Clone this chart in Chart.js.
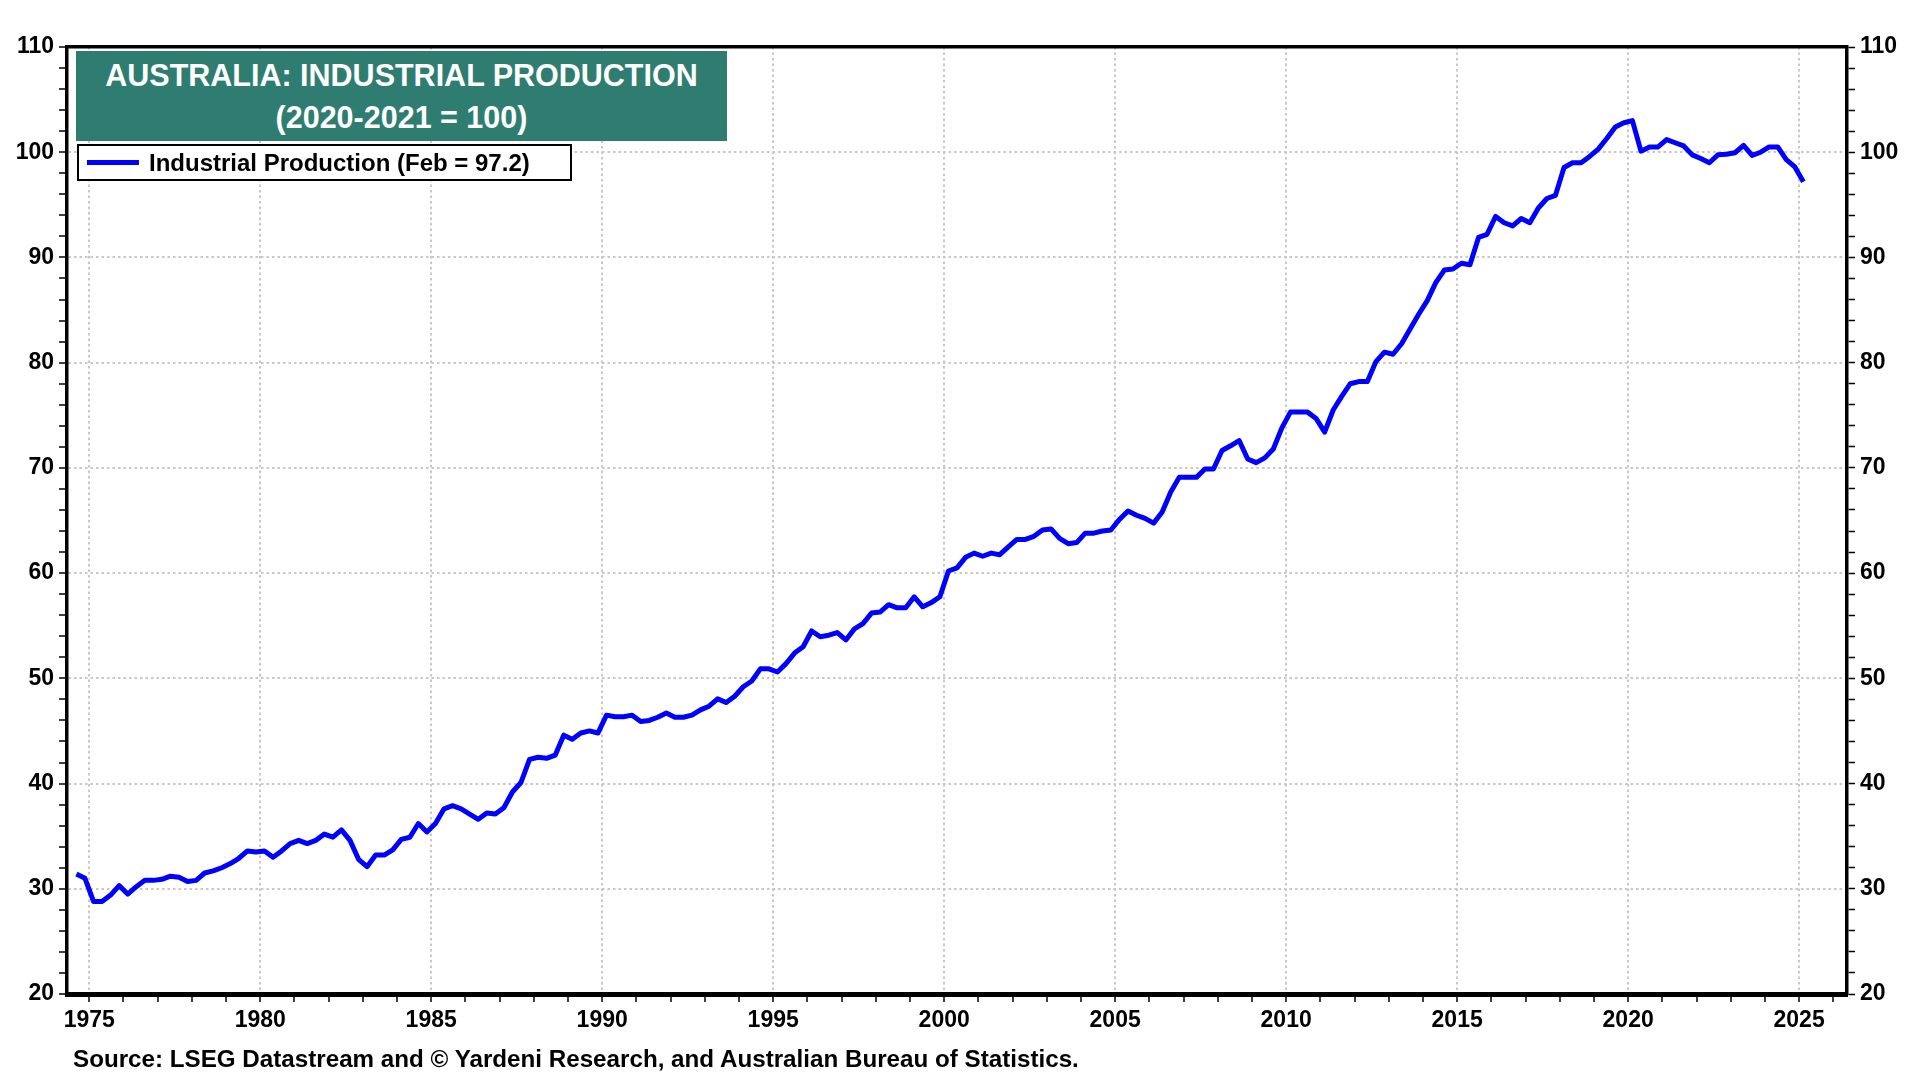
<!DOCTYPE html>
<html><head><meta charset="utf-8">
<script src="https://cdn.jsdelivr.net/npm/chart.js@4.4.1/dist/chart.umd.min.js"></script>
<style>
html,body{margin:0;padding:0;background:#fff;}
#wrap{position:relative;width:1920px;height:1080px;overflow:hidden;}
canvas{position:absolute;left:0;top:0;}
.t{position:absolute;font-family:"Liberation Sans",Arial,sans-serif;font-weight:bold;}
#title{left:76px;top:51px;width:651px;height:90px;background:#2e7d70;color:#fff;font-size:30.5px;text-align:center;line-height:42px;padding-top:3px;box-sizing:border-box;white-space:nowrap;}
#legend{left:77px;top:144px;width:495px;height:37px;border:2px solid #000;background:#fff;box-sizing:border-box;font-size:24px;line-height:33px;color:#000;}
#legend .sw{position:absolute;left:8px;top:14px;width:52px;height:5px;background:#0000ff;}
#legend .lt{position:absolute;left:70px;top:0;white-space:nowrap;}
#source{left:73px;top:1045px;font-size:24.2px;color:#000;white-space:nowrap;}
</style></head>
<body><div id="wrap">
<canvas id="c" width="1920" height="1080"></canvas>
<div class="t" id="title">AUSTRALIA: INDUSTRIAL PRODUCTION<br>(2020-2021 = 100)</div>
<div class="t" id="legend"><div class="sw"></div><div class="lt">Industrial Production (Feb = 97.2)</div></div>
<div class="t" id="source">Source: LSEG Datastream and © Yardeni Research, and Australian Bureau of Statistics.</div>
</div>
<script>
// Quarterly observations (mid-quarter months), first = Aug 1974, last = Feb 2025
const firstObs = {year: 1974, month: 8};
const obsStepMonths = 3;
const ipValues = [
31.4,31.0,28.8,28.8,29.4,30.3,29.5,30.2,30.8,30.8,
30.9,31.2,31.1,30.7,30.8,31.5,31.7,32.0,32.4,32.9,
33.6,33.5,33.6,33.0,33.6,34.3,34.6,34.3,34.6,35.2,
34.9,35.6,34.6,32.8,32.1,33.2,33.2,33.7,34.7,34.9,
36.2,35.4,36.2,37.6,37.9,37.6,37.1,36.6,37.2,37.1,
37.7,39.2,40.1,42.3,42.5,42.4,42.7,44.6,44.2,44.8,
45.0,44.8,46.5,46.35,46.35,46.5,45.9,46.0,46.3,46.7,
46.3,46.3,46.5,47.0,47.35,48.05,47.7,48.3,49.2,49.75,
50.9,50.9,50.6,51.4,52.4,53.0,54.5,53.95,54.1,54.35,
53.65,54.7,55.2,56.2,56.3,57.0,56.7,56.7,57.75,56.8,
57.2,57.75,60.2,60.5,61.5,61.9,61.6,61.9,61.75,62.5,
63.2,63.2,63.5,64.1,64.2,63.3,62.8,62.9,63.8,63.8,
64.0,64.1,65.1,65.9,65.5,65.2,64.75,65.8,67.7,69.1,
69.1,69.1,69.9,69.9,71.65,72.1,72.6,70.85,70.5,70.95,
71.8,73.8,75.3,75.3,75.3,74.7,73.4,75.5,76.8,78.0,
78.2,78.2,80.1,81.0,80.8,81.8,83.2,84.6,85.9,87.6,
88.8,88.9,89.45,89.3,91.9,92.2,93.9,93.3,93.0,93.7,
93.3,94.7,95.6,95.9,98.55,99.0,99.0,99.6,100.3,101.3,
102.4,102.8,103.0,100.1,100.5,100.5,101.2,100.9,100.6,99.75,
99.4,99.0,99.75,99.8,99.95,100.65,99.7,100.0,100.5,100.5,
99.3,98.6,97.2
];
const seriesLabel = 'Industrial Production (Feb = 97.2)';
const xMin = 1974.35, xMax = 2026.4;
const yMin = 20, yMax = 110;
const xLabelEvery = 5;   // years
const yLabelEvery = 10;

const points = ipValues.map((v, i) => {
  const m = firstObs.month - 1 + i * obsStepMonths;
  const yr = firstObs.year + Math.floor(m / 12);
  const mo = m % 12;
  return {x: yr + (mo + 0.5) / 12, y: v};
});

const FONT = '"Liberation Sans", Arial, sans-serif';
const tickFont = {family: FONT, size: 23, weight: 'bold'};
const GRID = '#c8c8c8';
const NONE = 'rgba(0,0,0,0)';

new Chart(document.getElementById('c').getContext('2d'), {
  type: 'line',
  data: {datasets: [{label: seriesLabel, data: points, borderColor: '#0000ff', backgroundColor: '#0000ff',
    borderWidth: 5, pointRadius: 0, tension: 0, fill: false, borderJoinStyle: 'round'}]},
  options: {
    responsive: false, animation: false, devicePixelRatio: 1,
    layout: {padding: {top: 47, left: 0, right: 0, bottom: 0}},
    plugins: {legend: {display: false}, title: {display: false}, tooltip: {enabled: false}},
    scales: {
      x: {
        type: 'linear', position: 'bottom', min: xMin, max: xMax,
        afterFit(s) { s.height = 86; },
        ticks: {stepSize: 1, autoSkip: false, maxRotation: 0, includeBounds: false, padding: 5,
          color: '#000', font: tickFont,
          callback: v => (Math.round(v) % xLabelEvery === 0 ? String(Math.round(v)) : '')},
        grid: {color: c => (c.tick && Math.round(c.tick.value) % xLabelEvery === 0) ? GRID : NONE,
          lineWidth: 2, drawTicks: true, tickLength: 8, tickColor: '#000', tickWidth: 1.5},
        border: {display: true, color: '#000', width: 5, dash: [2.5, 3]}
      },
      x2: {
        type: 'linear', position: 'top', min: xMin, max: xMax,
        afterFit(s) { s.height = 0; },
        ticks: {display: false},
        grid: {drawOnChartArea: false, drawTicks: false},
        border: {display: true, color: '#000', width: 3.5}
      },
      y: {
        type: 'linear', position: 'left', min: yMin, max: yMax,
        afterFit(s) { s.width = 67; },
        ticks: {stepSize: 2, autoSkip: false, includeBounds: false, padding: 5, color: '#000', font: tickFont,
          callback: v => (Math.round(v) % yLabelEvery === 0 ? String(Math.round(v)) : '')},
        grid: {color: c => (c.tick && Math.round(c.tick.value) % yLabelEvery === 0 && c.tick.value > yMin && c.tick.value < yMax) ? GRID : NONE,
          lineWidth: 2, drawTicks: true, tickLength: 8, tickColor: '#000', tickWidth: 1.5},
        border: {display: true, color: '#000', width: 3.5, dash: [2.5, 3]}
      },
      y2: {
        type: 'linear', position: 'right', min: yMin, max: yMax,
        afterFit(s) { s.width = 73; },
        ticks: {stepSize: 2, autoSkip: false, includeBounds: false, padding: 5, color: '#000', font: tickFont,
          callback: v => (Math.round(v) % yLabelEvery === 0 ? String(Math.round(v)) : '')},
        grid: {drawOnChartArea: false, drawTicks: true, tickLength: 8, tickColor: '#000', tickWidth: 1.5},
        border: {display: true, color: '#000', width: 3.5}
      }
    }
  }
});
</script>
</body></html>
